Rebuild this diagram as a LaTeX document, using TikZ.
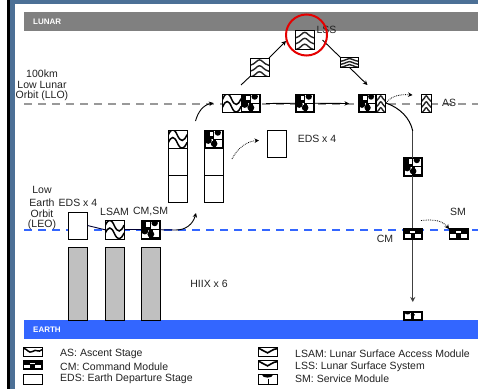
\documentclass[tikz,border=0pt]{standalone}
\usepackage{fontspec}
\setmainfont{Liberation Sans}
\usetikzlibrary{arrows.meta}
\definecolor{frameblue}{HTML}{4C7096}
\definecolor{earthblue}{HTML}{3366FF}
\definecolor{barg}{HTML}{808080}
\definecolor{rocket}{HTML}{C0C0C0}
\definecolor{txt}{HTML}{222222}
\definecolor{lunarg}{HTML}{999999}
\tikzset{
  iconbox/.style={draw=black,line width=1pt,inner sep=0pt,outer sep=0pt},
  lbl/.style={text=txt,font=\fontsize{10.5}{11.5}\selectfont,inner sep=0pt,align=center},
  leglbl/.style={lbl,anchor=west},
  barlbl/.style={text=white,font=\fontsize{8}{9}\selectfont\bfseries,inner sep=0pt,anchor=west},
  conn/.style={line width=.9pt,black,-{Stealth[length=4.5pt,width=4.5pt]}},
  plainconn/.style={line width=.9pt,black},
  dotconn/.style={line width=.8pt,black,densely dotted,-{Stealth[length=4.5pt,width=4.5pt]}},
  orbitg/.style={line width=2pt,color=lunarg,dash pattern=on 8pt off 6pt},
  orbitb/.style={line width=1.8pt,color=earthblue,dash pattern=on 8pt off 6pt},
  descent/.style={line width=1.2pt,color=black!75},
}
\newcommand{\iwave}{%
  \foreach \yy in {.3,.72}{
    \draw[line width=1.5pt] (0,\yy) .. controls (.17,\yy-.42) and (.33,\yy-.42) .. (.5,\yy) .. controls (.67,\yy+.36) and (.83,\yy+.36) .. (1,\yy-.05);
  }}
\newcommand{\ichev}{%
  \foreach \yy in {.4,.72,1.04}{
    \draw[line width=1.4pt,black!85] (0,\yy) .. controls (.3,\yy-.08) and (.35,\yy-.3) .. (.5,\yy-.3) .. controls (.65,\yy-.3) and (.7,\yy-.08) .. (1,\yy);
  }}
\newcommand{\iflatwave}{%
  \draw[line width=1.5pt] (0,.15) .. controls (.2,.1) and (.3,.8) .. (.5,.5) .. controls (.7,.15) and (.8,.7) .. (1,.3);
}
\newcommand{\iflatv}{%
  \draw[line width=1.6pt] (0,.1) -- (.5,.65) -- (.85,.25) -- (1,.2);
}
\newcommand{\icheck}{%
  \fill[black] (0,0) rectangle (1,1);
  \fill[white] (.52,.06) rectangle (.94,.46);
  \fill[white] (.06,.5) rectangle (.44,.94);
  \fill[white] (.62,.52) rectangle (.94,.9);
  \fill[white] (.28,.1) rectangle (.48,.34);
  \fill[black] (.72,.14) circle[radius=.17];
  \fill[black] (.2,.56) circle[radius=.19];
  \fill[black] (.52,.74) circle[radius=.18];
}
\newcommand{\icmflat}{%
  \fill[black] (0,0) rectangle (1,1);
  \fill[white] (.06,.48) rectangle (.38,.86);
  \fill[white] (.62,.48) rectangle (.94,.86);
  \fill[white] (.36,.3) rectangle (.64,.45);
}
\newcommand{\ism}{%
  \fill[black] (0,0) rectangle (1,1);
  \fill[white] (.08,.15) rectangle (.42,.85);
  \fill[white] (.55,.15) rectangle (.92,.85);
  \fill[black] (.22,.2) circle[radius=.14];
  \fill[black] (.5,.4) circle[radius=.12];
}
\newcommand{\ismleg}{%
  \fill[white] (0,0) rectangle (1,1);
  \fill[black] (.5,.05) circle[radius=.28];
  \fill[black] (.5,.5) rectangle (.55,1);
}
\newcommand{\iblank}{}
% \icon{name}{drawing}{x0}{y0}{x1}{y1}
\newcommand{\icon}[6]{%
  \pgfmathsetmacro{\icw}{#5-#3}\pgfmathsetmacro{\ich}{#6-#4}%
  \pgfmathsetmacro{\icx}{(#3+#5)/2}\pgfmathsetmacro{\icy}{(#4+#6)/2}%
  \node[iconbox,fill=white,minimum width=\icw pt,minimum height=\ich pt] (#1) at (\icx,\icy) {};
  \begin{scope}[shift={(#3,#4)},xscale=\icw,yscale=\ich]
    \clip (0,0) rectangle (1,1);
    #2
  \end{scope}
  \node[iconbox,minimum width=\icw pt,minimum height=\ich pt] at (\icx,\icy) {};
}
\begin{document}
\begin{tikzpicture}[x=1pt,y=-1pt]
\useasboundingbox (0,0) rectangle (478,389);
\fill[white] (0,0) rectangle (478,389);
\fill[frameblue] (7,0) rectangle (478,4);
\fill[frameblue] (10,0) rectangle (15,389);
\fill[black] (7,0) rectangle (10,389);
% bands
\fill[barg] (24,12) rectangle (478,31);
\fill[earthblue] (24,320) rectangle (478,339);
\node[barlbl] (lunar) at (33,22) {LUNAR};
\node[barlbl] (earth) at (33,330) {EARTH};
% orbits
\coordinate (lloL) at (24,103.5); \coordinate (lloR) at (478,103.5);
\coordinate (leoL) at (24,230); \coordinate (leoR) at (478,230);
\draw[orbitg] (lloL) -- (lloR);
\draw[orbitb] (leoL) -- (leoR);
% LEO stack
\node[iconbox,draw=black,fill=rocket,minimum width=19pt,minimum height=73pt] (r1) at (78,283.5) {};
\node[iconbox,draw=black,fill=rocket,minimum width=19pt,minimum height=73pt] (r2) at (114.5,283.5) {};
\node[iconbox,draw=black,fill=rocket,minimum width=19pt,minimum height=73pt] (r3) at (150.5,283.5) {};
\icon{eds1}{\iblank}{68.5}{212}{87.5}{239}
\icon{lsam1}{\iwave}{105}{220.5}{124}{239}
\icon{cs1}{\icheck}{141}{220.5}{160}{239}
% stacks
\icon{a1}{\iwave}{168}{130}{187}{148.5}
\icon{a2}{\iblank}{168}{148.5}{187}{175}
\icon{a3}{\iblank}{168}{175}{187}{202}
\icon{b1}{\icheck}{204.5}{130}{223}{148.5}
\icon{b2}{\iblank}{204.5}{148.5}{223}{175}
\icon{b3}{\iblank}{204.5}{175}{223}{202}
\icon{eds2}{\iblank}{267.5}{130}{286.5}{157}
% LLO
\icon{w1}{\iwave}{222.5}{94}{241}{112.5}
\icon{c1}{\icheck}{241}{94}{260}{112.5}
\icon{c2}{\icheck}{295.5}{94}{314}{112.5}
\icon{c3}{\icheck}{358.5}{94}{376}{112.5}
\icon{as1}{\ichev}{376}{94}{385.5}{112.5}
\icon{as2}{\ichev}{421.5}{94}{431}{112.5}
% surface
\icon{up}{\ichev}{250}{58}{269}{76.5}
\icon{lss}{\ichev}{295.5}{30.5}{314}{49}
\icon{down}{\ichev}{340.5}{57.5}{358.5}{67}
% return
\icon{c4}{\icheck}{403.5}{157.5}{422}{176}
\icon{cmleo}{\icmflat}{403.5}{228}{422}{239.5}
\icon{smleo}{\icmflat}{449}{228}{468}{239.5}
\icon{cmend}{\ism}{403.5}{311.5}{422}{320}
% connectors
\draw[plainconn,color=black!80!blue] (eds1.east) -- (lsam1.west);
\draw[plainconn,color=black!80!blue] (lsam1.east) -- (cs1.west);
\coordinate (leoBend) at (176,230); \coordinate (leoTip) at (196,213);
\draw[plainconn,color=black!80!blue] (cs1.east) -- (leoBend);
\draw[conn] (leoBend) .. controls (186,230) and (193,224) .. (leoTip);
\coordinate (llostart) at (195.5,121); \coordinate (llotip) at (213.5,103);
\draw[conn] (llostart) .. controls (198,112) and (203,105) .. (llotip);
\coordinate (edsstart) at (232,159); \coordinate (edstip) at (259,140.5);
\draw[dotconn] (edsstart) .. controls (238,147) and (248,141) .. (edstip);
\coordinate (upstart) at (241,85); \coordinate (lsstip) at (286,41);
\draw[plainconn] (upstart) -- (up.south west);
\draw[conn] (up.north east) -- (lsstip);
\coordinate (downstart) at (322.5,40); \coordinate (downtip) at (367.5,85);
\draw[plainconn] (downstart) -- (down.north west);
\coordinate (downout) at (349,67);
\draw[conn] (downout) -- (downtip);
\coordinate (midstart) at (266,103.5);
\draw[plainconn] (midstart) -- (c2.west);
\coordinate (midtip) at (349,103.5);
\draw[conn] (c2.east) -- (midtip);
\coordinate (asstart) at (386,103); \coordinate (astip) at (412.5,95);
\draw[dotconn] (asstart) .. controls (391,96) and (400,94) .. (astip);
\draw[line width=1pt,black] (asstart) .. controls (400,108) and (410,118) .. (412.75,131);
\coordinate (bendend) at (412.75,131);
\draw[descent] (bendend) -- (c4.north);
\draw[descent] (c4.south) -- (cmleo.north);
\coordinate (endtip) at (412.75,302);
\draw[descent,-{Stealth[length=5pt,width=5pt]}] (cmleo.south) -- (endtip);
\coordinate (smstart) at (421,220.5);
\draw[dotconn] (smstart) .. controls (435,219) and (443,221) .. (449,229);
% labels
\node[lbl] (t1) at (42,73.5) {100km};
\node[lbl] (t2) at (42,85) {Low Lunar};
\node[lbl] (t3) at (42,96) {Orbit (LLO)};
\node[lbl] (t4) at (42,190) {Low};
\node[lbl] (t5) at (42,203) {Earth};
\node[lbl] (t6) at (42,214) {Orbit};
\node[lbl] (t7) at (42,225) {(LEO)};
\node[lbl] (t8) at (78,203) {EDS x 4};
\node[lbl] (t9) at (114.5,211.5) {LSAM};
\node[lbl] (t10) at (150.5,211.5) {CM,SM};
\node[lbl] (t11) at (209,283.5) {HIIX x 6};
\node[lbl] (t12) at (317,139) {EDS x 4};
\node[lbl] (t13) at (326.5,30) {LSS};
\node[lbl] (t14) at (449,103) {AS};
\node[lbl] (t15) at (458,211.5) {SM};
\node[lbl] (t16) at (385,239) {CM};
% red circle
\node[draw=red!90!black,line width=2pt,circle,minimum size=41pt,inner sep=0pt] (ring) at (306.5,35) {};
% legend
\icon{l1}{\iflatwave}{23}{347}{42}{356}
\icon{l2}{\icmflat}{23}{360.5}{42}{369}
\icon{l3}{\iblank}{23}{374.5}{42}{384}
\icon{l4}{\iflatv}{258}{347}{277}{356}
\icon{l5}{\iflatv}{258}{360}{277}{369}
\icon{l6}{\ismleg}{258}{374.5}{277}{384}
\node[leglbl] (k1) at (60,353.5) {AS: Ascent Stage};
\node[leglbl] (k2) at (60,366.5) {CM: Command Module};
\node[leglbl] (k3) at (60,379) {EDS: Earth Departure Stage};
\node[leglbl] (k4) at (295,353.5) {LSAM: Lunar Surface Access Module};
\node[leglbl] (k5) at (295,366.5) {LSS: Lunar Surface System};
\node[leglbl] (k6) at (295,379) {SM: Service Module};
\end{tikzpicture}
\end{document}
